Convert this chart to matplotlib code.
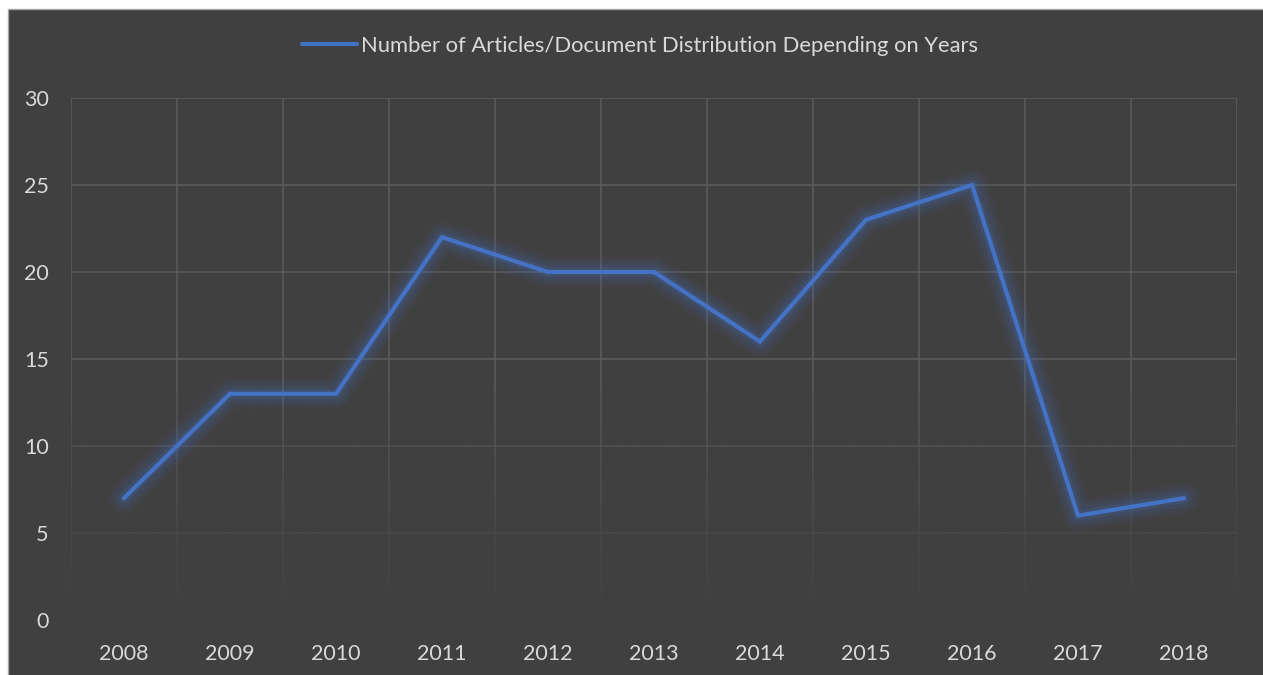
import numpy as np
import matplotlib
matplotlib.use('Agg')
import matplotlib.pyplot as plt
from matplotlib.patches import Rectangle
from matplotlib.colors import to_rgb

# data
years = ['2008', '2009', '2010', '2011', '2012', '2013',
         '2014', '2015', '2016', '2017', '2018']
counts = [7, 13, 13, 22, 20, 20, 16, 23, 25, 6, 7]
series_label = 'Number of Articles/Document Distribution Depending on Years'
y_ticks = [0, 5, 10, 15, 20, 25, 30]

BG = '#404040'
GRID = '#5a5a5a'
TXT = '#d9d9d9'
BLUE = '#4472c4'

plt.rcParams['font.family'] = ['Lato', 'DejaVu Sans']

fig = plt.figure(figsize=(12.63, 6.75), dpi=100)
fig.patch.set_facecolor('white')

# dark chart area with thin grey frame (white margin top/left)
W, H = 1263, 675
fig.patches.append(Rectangle((8 / W, -0.01), 1 - 8 / W + 0.01, 1 - 9 / H + 0.01,
                             transform=fig.transFigure, facecolor=BG,
                             edgecolor='#a6a6a6', linewidth=1.0, zorder=-10))

ax = fig.add_axes([71 / W, 1 - 620 / H, (1237 - 71) / W, (620 - 98) / H])
ax.set_facecolor(BG)
for s in ax.spines.values():
    s.set_visible(False)

x = np.arange(len(years))

# grid: horizontal at ticks, vertical at category boundaries
ax.set_axisbelow(True)
ax.set_yticks(y_ticks)
ax.yaxis.grid(True, color=GRID, linewidth=1.2)
for b in np.arange(-0.5, len(years) + 0.5, 1.0):
    ax.axvline(b, color=GRID, linewidth=1.2, zorder=0.5)

# fade the grid towards the bottom
n = 300
f = np.linspace(1, 0, n)
alpha = np.clip((0.45 - f) / 0.45, 0, 1) ** 0.8
rgba = np.zeros((n, 1, 4))
rgba[..., :3] = to_rgb(BG)
rgba[:, 0, 3] = alpha
ax.imshow(rgba, extent=[0, 1, 0, 1], transform=ax.transAxes,
          aspect='auto', zorder=1, interpolation='bilinear')

# glow then main line
for lw, a in [(22, 0.06), (17, 0.08), (12, 0.11), (7, 0.15)]:
    ax.plot(x, counts, color=BLUE, linewidth=lw, alpha=a,
            solid_capstyle='round', solid_joinstyle='round', zorder=2)
line, = ax.plot(x, counts, color=BLUE, linewidth=3.0,
                solid_capstyle='round', solid_joinstyle='miter', zorder=3,
                label=series_label)

ax.set_xlim(-0.5, len(years) - 0.5)
ax.set_ylim(0, 30)
ax.set_xticks(x)
ax.set_xticklabels(years)
ax.tick_params(axis='both', length=0, labelsize=15.5, labelcolor=TXT)
ax.tick_params(axis='y', pad=16)
ax.tick_params(axis='x', pad=17)

leg = fig.legend(handles=[line], loc='center', bbox_to_anchor=(0.507, 0.932),
                 frameon=False, fontsize=15.8, handlelength=2.5,
                 handletextpad=0.2)
for t in leg.get_texts():
    t.set_color(TXT)

fig.savefig('out.png', dpi=100, facecolor=fig.get_facecolor())
